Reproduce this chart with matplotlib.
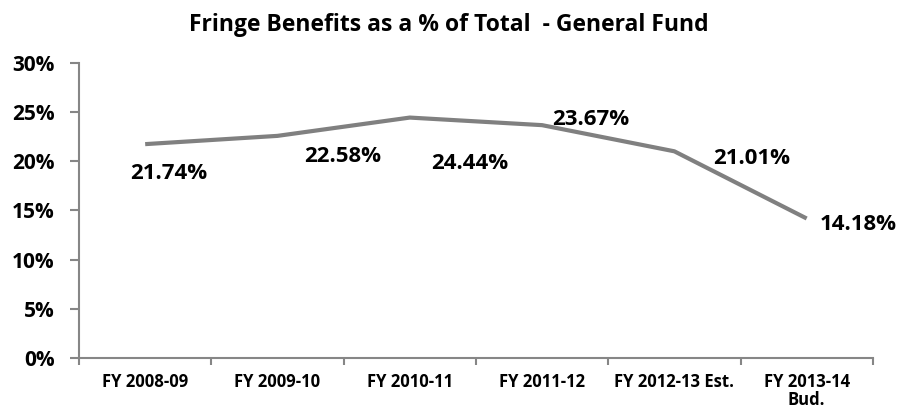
import numpy as np
import matplotlib
matplotlib.use('Agg')
import matplotlib.pyplot as plt
from matplotlib.ticker import FixedLocator, PercentFormatter

YEARS = ['FY 2008-09', 'FY 2009-10', 'FY 2010-11', 'FY 2011-12',
         'FY 2012-13 Est.', 'FY 2013-14\nBud.']
FRINGE_PCT = [21.74, 22.58, 24.44, 23.67, 21.01, 14.18]

# label offsets in points (dx, dy) relative to each data point
LABEL_OFFSETS = [(17, -21), (47, -15), (43, -33), (35, 4), (56, -5), (37, -4)]

LINE_COLOR = '#808080'
AXIS_COLOR = '#868686'

plt.rcParams['font.family'] = ['Open Sans', 'DejaVu Sans']

fig = plt.figure(figsize=(9, 4.11), dpi=100)
ax = fig.add_axes([0.0878, 0.129, 0.882, 0.718])

x = np.arange(len(YEARS))
ax.plot(x, FRINGE_PCT, color=LINE_COLOR, lw=3.0, solid_capstyle='butt', zorder=3)

for xi, v, (dx, dy) in zip(x, FRINGE_PCT, LABEL_OFFSETS):
    ax.annotate(f'{v:.2f}%', (xi, v), xytext=(dx, dy), textcoords='offset points',
                ha='center', va='center', fontsize=16, fontweight='bold')

ax.set_xlim(-0.5, len(YEARS) - 0.5)
ax.set_ylim(0, 30)
ax.set_yticks(np.arange(0, 31, 5))
ax.yaxis.set_major_formatter(PercentFormatter(decimals=0))

ax.set_xticks(x)
ax.set_xticklabels(YEARS, fontsize=12, fontweight='bold', linespacing=0.95)
ax.xaxis.set_minor_locator(FixedLocator(np.arange(-0.5, len(YEARS), 1)))
ax.tick_params(axis='x', which='major', length=0, pad=11)
ax.tick_params(axis='x', which='minor', length=5, width=1.5, color=AXIS_COLOR, direction='out')
ax.tick_params(axis='y', length=6.5, width=1.5, color=AXIS_COLOR, direction='out', pad=11)
for lbl in ax.get_yticklabels():
    lbl.set_fontsize(15)
    lbl.set_fontweight('bold')

for side in ['top', 'right']:
    ax.spines[side].set_visible(False)
for side in ['left', 'bottom']:
    ax.spines[side].set_color(AXIS_COLOR)
    ax.spines[side].set_linewidth(1.5)

fig.suptitle('Fringe Benefits as a % of Total  - General Fund', x=0.499, y=0.94,
             va='center', fontsize=16.5, fontweight='bold')

fig.savefig('out.png', dpi=100)
